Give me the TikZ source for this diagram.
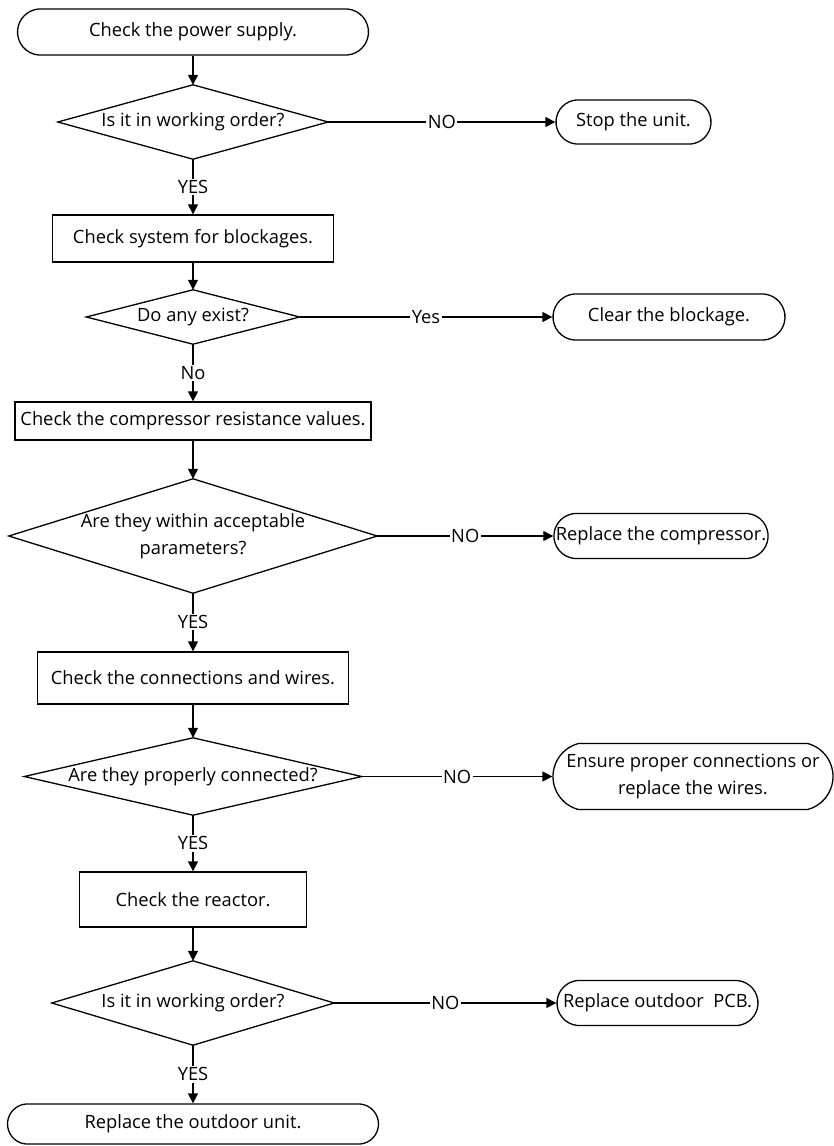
\documentclass[tikz,border=0pt]{standalone}
\usepackage{fontspec}
\setmainfont{Open Sans}
\usetikzlibrary{shapes.misc,arrows.meta}
\begin{document}
\begin{tikzpicture}[x=1pt,y=-1pt,
  every node/.style={font=\fontsize{18.3}{27}\selectfont, text=black},
  line/.style={line width=1.3pt},
  arr/.style={line, -{Triangle[length=10pt,width=10pt]}},
  term/.style={rounded rectangle, rounded rectangle arc length=170, draw, line width=1.3pt, inner sep=0pt, align=center},
  box/.style={rectangle, draw, line width=1.3pt, inner sep=0pt, align=center},
  dia/.style={rectangle, inner sep=0pt, align=center},
  lab/.style={fill=white, inner sep=1.5pt}]
\useasboundingbox (0,0) rectangle (833,1146);
% left column
\node[term, minimum width=351pt, minimum height=46pt] (n1) at (193,32) {Check the power supply.};
\node[dia, minimum width=270pt, minimum height=74pt] (d1) at (193,122) {Is it in working order?};
\node[box, minimum width=281pt, minimum height=47pt] (r1) at (193,238.5) {Check system for blockages.};
\node[dia, minimum width=213pt, minimum height=54pt] (d2) at (193,317) {Do any exist?};
\node[box, minimum width=356pt, minimum height=38pt] (r2) at (193,421) {Check the compressor resistance values.};
\node[dia, minimum width=368pt, minimum height=114pt] (d3) at (193,536) {Are they within acceptable\\parameters?};
\node[box, minimum width=311pt, minimum height=52pt] (r3) at (193,678) {Check the connections and wires.};
\node[dia, minimum width=337pt, minimum height=77pt] (d4) at (193,776.5) {Are they properly connected?};
\node[box, minimum width=227pt, minimum height=55pt] (r4) at (193,899.5) {Check the reactor.};
\node[dia, minimum width=282pt, minimum height=84pt] (d5) at (193,1003) {Is it in working order?};
\node[term, minimum width=371pt, minimum height=40pt] (n6) at (193,1124) {Replace the outdoor unit.};
% right column
\node[term, minimum width=155pt, minimum height=44pt] (s1) at (633.5,122) {Stop the unit.};
\node[term, minimum width=232pt, minimum height=46pt] (s2) at (669,317) {Clear the blockage.};
\node[term, minimum width=210pt, minimum height=45pt] (s3) at (661,536) {Replace the compressor.};
\node[term, rounded rectangle arc length=150, minimum width=280pt, minimum height=66pt] (s4) at (693,776.5) {Ensure proper connections or\\replace the wires.};
\node[term, minimum width=201pt, minimum height=45pt] (s5) at (657.5,1003) {Replace outdoor\ \ PCB.};
% diamonds
\foreach \d in {d1,d2,d3,d4,d5}
  \draw[line, line join=miter] (\d.north) -- (\d.east) -- (\d.south) -- (\d.west) -- cycle;
% vertical connectors
\draw[arr] (n1.south) -- (d1.north);
\draw[arr] (d1.south) -- node[lab]{YES} (r1.north);
\draw[arr] (r1.south) -- (d2.north);
\draw[arr] (d2.south) -- node[lab]{No} (r2.north);
\draw[arr] (r2.south) -- (d3.north);
\draw[arr] (d3.south) -- node[lab]{YES} (r3.north);
\draw[arr] (r3.south) -- (d4.north);
\draw[arr] (d4.south) -- node[lab]{YES} (r4.north);
\draw[arr] (r4.south) -- (d5.north);
\draw[arr] (d5.south) -- node[lab]{YES} (n6.north);
% horizontal connectors
\draw[arr] (d1.east) -- node[lab]{NO} (s1.west);
\draw[arr] (d2.east) -- node[lab]{Yes} (s2.west);
\draw[arr] (d3.east) -- node[lab]{NO} (s3.west);
\draw[arr] (d4.east) -- node[lab]{NO} (s4.west);
\draw[arr] (d5.east) -- node[lab]{NO} (s5.west);
\end{tikzpicture}
\end{document}
